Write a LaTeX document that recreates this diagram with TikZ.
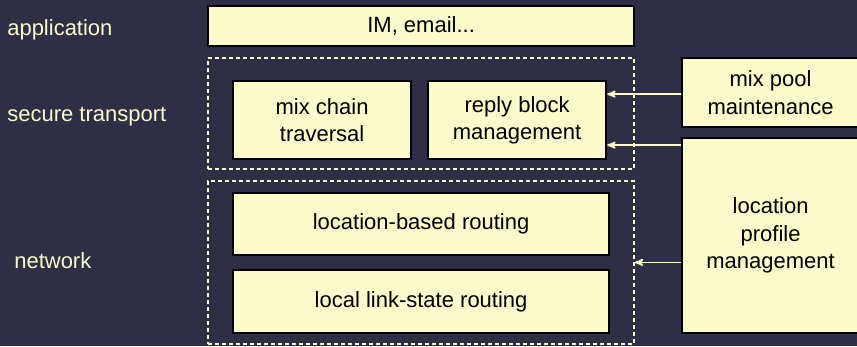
\documentclass[tikz,border=0pt]{standalone}
\usepackage{fontspec}
\setmainfont{Liberation Sans}
\usetikzlibrary{arrows,positioning}
\definecolor{bgnavy}{RGB}{46,46,68}
\definecolor{paleyellow}{RGB}{250,250,202}

\begin{document}
\begin{tikzpicture}[x=1pt, y=-1pt, >=stealth', semithick,
    block/.style={draw=black, line width=2.2pt, fill=paleyellow, align=center,
                  inner sep=0pt, anchor=north west, font=\fontsize{22}{27.5}\selectfont},
    layer/.style={draw=paleyellow, line width=1.8pt, dash pattern=on 4pt off 3pt,
                  inner sep=0pt, anchor=north west},
    tag/.style={text=paleyellow, anchor=base west, inner sep=0pt, font=\fontsize{22}{27}\selectfont},
    feed/.style={->, draw=paleyellow, line width=1.8pt}]
    \fill[bgnavy] (0,0) rectangle (857,346);
    \useasboundingbox (0,0) rectangle (857,346);

    % layer names
    \node[tag] (app)  at (7,35)   {application};
    \node[tag] (sec)  at (7,121)  {secure transport};
    \node[tag] (net)  at (14,268) {network};

    % layers
    \node[block, minimum width=426pt, minimum height=40pt]  (im)        at (207,5)   {IM, email...};
    \node[layer, minimum width=426pt, minimum height=111pt] (transport) at (207,57)  {};
    \node[layer, minimum width=426pt, minimum height=163pt] (network)   at (207,180) {};

    \node[block, minimum width=178pt, minimum height=78pt]  (mixchain)  at (232,80)  {mix chain\\traversal};
    \node[block, minimum width=178pt, minimum height=78pt]  (reply)     at (427,80)  {reply block\\management};
    \node[block, minimum width=376pt, minimum height=62pt]  (locroute)  at (232,192) {location-based routing};
    \node[block, minimum width=376pt, minimum height=63pt]  (linkstate) at (232,269) {local link-state routing};

    % side services
    \node[block, minimum width=177pt, minimum height=69pt]  (mixpool)   at (681,57)  {mix pool\\maintenance};
    \node[block, minimum width=177pt, minimum height=195pt] (profile)   at (681,137) {location\\profile\\management};

    \draw[feed] ([yshift=-1.5pt]mixpool.west) -- ([yshift=-1.5pt]mixpool.west -| reply.east);
    \draw[feed] ([yshift=-25pt]reply.east -| profile.west) -- ([yshift=-25pt]reply.east);
    \draw[feed] (profile.west |- network.east) -- (network.east);
\end{tikzpicture}
\end{document}
